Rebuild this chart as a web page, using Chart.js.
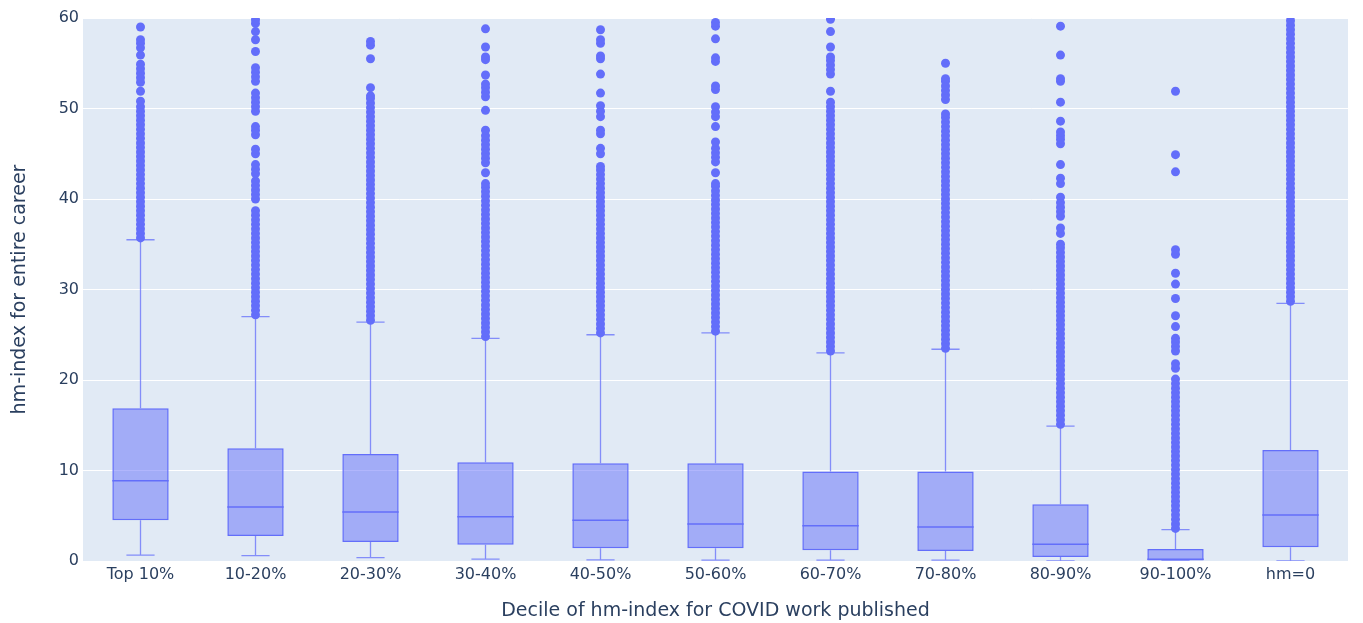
<!DOCTYPE html>
<html>
<head>
<meta charset="utf-8">
<script src="https://cdn.jsdelivr.net/npm/chart.js@4/dist/chart.umd.min.js"></script>
<style>
  html, body { margin: 0; padding: 0; background: #ffffff; }
  #wrap { width: 1363px; height: 623px; }
</style>
</head>
<body>
<div id="wrap"><canvas id="chart" width="1363" height="623"></canvas></div>
<script>
// Deciles of hm-index for COVID work, with box statistics of career hm-index
const categories = ['Top 10%', '10-20%', '20-30%', '30-40%', '40-50%', '50-60%', '60-70%', '70-80%', '80-90%', '90-100%', 'hm=0'];

const lowerFence = [0.66, 0.59, 0.37, 0.2, 0.12, 0.1, 0.1, 0.1, 0, 0, 0];
const q1         = [4.49, 2.76, 2.1, 1.8, 1.4, 1.4, 1.2, 1.1, 0.44, 0, 1.51];
const median     = [8.87, 5.97, 5.41, 4.9, 4.5, 4.1, 3.9, 3.75, 1.84, 0.19, 5.08];
const q3         = [16.87, 12.45, 11.82, 10.9, 10.8, 10.8, 9.9, 9.9, 6.26, 1.33, 12.27];
const upperFence = [35.5, 27.0, 26.4, 24.6, 25.0, 25.2, 23.0, 23.4, 14.9, 3.46, 28.47];

// Outlying researchers above the upper fence, per decile
const outTop10 = [35.7,36.2,36.7,37.2,37.7,38.2,38.7,39.2,39.7,40.2,40.7,41.2,41.7,42.2,42.7,43.2,43.7,44.2,44.7,45.2,45.7,46.2,46.7,47.2,47.7,48.2,48.7,49.2,49.7,50.2,50.8,51.9,52.9,53.4,53.9,54.4,54.9,55.9,56.7,57.2,57.6,59.0];
const out10_20 = [27.2,27.7,28.2,28.7,29.2,29.7,30.2,30.7,31.2,31.7,32.2,32.7,33.2,33.7,34.2,34.7,35.2,35.7,36.2,36.7,37.2,37.7,38.2,38.7,40.0,40.5,41.0,41.5,42.0,42.8,43.3,43.8,45.0,45.5,47.1,47.6,48.0,49.7,50.2,50.7,51.2,51.7,53.0,53.5,54.0,54.5,56.3,57.6,58.5,59.4,59.8,61.0];
const out20_30 = [26.6,27.1,27.6,28.1,28.6,29.1,29.6,30.1,30.6,31.1,31.6,32.1,32.6,33.1,33.6,34.1,34.6,35.1,35.6,36.1,36.6,37.1,37.6,38.1,38.6,39.1,39.6,40.1,40.6,41.1,41.6,42.1,42.6,43.1,43.6,44.1,44.6,45.1,45.6,46.1,46.6,47.1,47.6,48.1,48.6,49.1,49.6,50.1,50.6,51.1,51.4,52.3,55.5,57.0,57.4];
const out30_40 = [24.8,25.3,25.8,26.3,26.8,27.3,27.8,28.3,28.8,29.3,29.8,30.3,30.8,31.3,31.8,32.3,32.8,33.3,33.8,34.3,34.8,35.3,35.8,36.3,36.8,37.3,37.8,38.3,38.8,39.3,39.8,40.3,40.8,41.3,41.7,42.9,44.0,44.5,45.0,45.5,46.0,46.5,47.0,47.6,49.8,51.3,51.8,52.3,52.7,53.7,55.4,55.7,56.8,58.8];
const out40_50 = [25.2,25.7,26.2,26.7,27.2,27.7,28.2,28.7,29.2,29.7,30.2,30.7,31.2,31.7,32.2,32.7,33.2,33.7,34.2,34.7,35.2,35.7,36.2,36.7,37.2,37.7,38.2,38.7,39.2,39.7,40.2,40.7,41.2,41.7,42.2,42.7,43.2,43.6,45.0,45.6,47.2,47.6,49.1,49.7,50.3,51.7,53.8,55.5,55.8,57.2,57.6,58.7];
const out50_60 = [25.4,25.9,26.4,26.9,27.4,27.9,28.4,28.9,29.4,29.9,30.4,30.9,31.4,31.9,32.4,32.9,33.4,33.9,34.4,34.9,35.4,35.9,36.4,36.9,37.4,37.9,38.4,38.9,39.4,39.9,40.4,40.9,41.4,41.7,42.9,44.1,44.6,45.1,45.6,46.3,48.0,49.1,49.6,50.2,52.1,52.5,55.2,55.6,57.7,59.1,59.5,60.5];
const out60_70 = [23.2,23.7,24.2,24.7,25.2,25.7,26.2,26.7,27.2,27.7,28.2,28.7,29.2,29.7,30.2,30.7,31.2,31.7,32.2,32.7,33.2,33.7,34.2,34.7,35.2,35.7,36.2,36.7,37.2,37.7,38.2,38.7,39.2,39.7,40.2,40.7,41.2,41.7,42.2,42.7,43.2,43.7,44.2,44.7,45.2,45.7,46.2,46.7,47.2,47.7,48.2,48.7,49.2,49.7,50.2,50.7,51.9,53.8,54.3,54.8,55.3,55.7,56.8,58.5,59.85,61.0];
const out70_80 = [23.5,24.0,24.5,25.0,25.5,26.0,26.5,27.0,27.5,28.0,28.5,29.0,29.5,30.0,30.5,31.0,31.5,32.0,32.5,33.0,33.5,34.0,34.5,35.0,35.5,36.0,36.5,37.0,37.5,38.0,38.5,39.0,39.5,40.0,40.5,41.0,41.5,42.0,42.5,43.0,43.5,44.0,44.5,45.0,45.5,46.0,46.5,47.0,47.5,48.0,48.5,49.0,49.4,51.0,51.5,52.0,52.5,53.0,53.3,55.0];
const out80_90 = [15.1,15.6,16.1,16.6,17.1,17.6,18.1,18.6,19.1,19.6,20.1,20.6,21.1,21.6,22.1,22.6,23.1,23.6,24.1,24.6,25.1,25.6,26.1,26.6,27.1,27.6,28.1,28.6,29.1,29.6,30.1,30.6,31.1,31.6,32.1,32.6,33.1,33.6,34.1,34.6,35.0,36.2,36.8,38.1,38.6,39.1,39.6,40.2,41.7,42.3,43.8,46.1,46.6,47.0,47.4,48.6,50.7,53.0,53.3,55.9,59.1];
const out90_100 = [3.6,4.1,4.6,5.1,5.6,6.1,6.6,7.1,7.6,8.1,8.6,9.1,9.6,10.1,10.6,11.1,11.6,12.1,12.6,13.1,13.6,14.1,14.6,15.1,15.6,16.1,16.6,17.1,17.6,18.1,18.6,19.1,19.6,20.1,21.3,21.8,23.2,23.7,24.2,24.6,25.9,27.1,29.0,30.6,31.8,33.9,34.4,43.0,44.9,51.9];
const outHm0 = [28.7,29.2,29.7,30.2,30.7,31.2,31.7,32.2,32.7,33.2,33.7,34.2,34.7,35.2,35.7,36.2,36.7,37.2,37.7,38.2,38.7,39.2,39.7,40.2,40.7,41.2,41.7,42.2,42.7,43.2,43.7,44.2,44.7,45.2,45.7,46.2,46.7,47.2,47.7,48.2,48.7,49.2,49.7,50.2,50.7,51.2,51.7,52.2,52.7,53.2,53.7,54.2,54.7,55.2,55.7,56.2,56.7,57.2,57.7,58.2,58.7,59.2,59.7,60.2,61.0];

const outliers = [outTop10, out10_20, out20_30, out30_40, out40_50, out50_60, out60_70, out70_80, out80_90, out90_100, outHm0];

const yTicks = [0, 10, 20, 30, 40, 50, 60];

const BOX_LINE = '#636efa';
const BOX_FILL = 'rgba(99,110,250,0.5)';
const TEXT = '#2a3f5f';
const FONT = 'DejaVu Sans';

const outlierPoints = [];
outliers.forEach((list, i) => list.forEach(v => outlierPoints.push({ x: categories[i], y: v })));

// Plot background panel
const panelPlugin = {
  id: 'panel',
  beforeDraw(chart) {
    const { ctx, chartArea: a } = chart;
    ctx.save();
    ctx.fillStyle = '#e1eaf5';
    ctx.fillRect(a.left, a.top, a.right - a.left, a.bottom - a.top);
    ctx.restore();
  }
};

// Whiskers (under the boxes) and medians (over the boxes)
const boxPartsPlugin = {
  id: 'boxParts',
  beforeDatasetsDraw(chart) {
    const { ctx, chartArea: a, scales: { x, y } } = chart;
    const bars = chart.getDatasetMeta(0).data;
    ctx.save();
    ctx.beginPath();
    ctx.rect(a.left, a.top, a.right - a.left, a.bottom - a.top);
    ctx.clip();
    ctx.strokeStyle = BOX_LINE;
    ctx.globalAlpha = 0.75;
    ctx.lineWidth = 1.3;
    categories.forEach((c, i) => {
      const cx = x.getPixelForValue(i);
      const half = bars[i].width / 4;
      const yHi = y.getPixelForValue(upperFence[i]);
      const yLo = y.getPixelForValue(lowerFence[i]);
      ctx.beginPath();
      ctx.moveTo(cx, y.getPixelForValue(q3[i]));
      ctx.lineTo(cx, yHi);
      ctx.moveTo(cx - half, yHi);
      ctx.lineTo(cx + half, yHi);
      ctx.moveTo(cx, y.getPixelForValue(q1[i]));
      ctx.lineTo(cx, yLo);
      ctx.moveTo(cx - half, yLo);
      ctx.lineTo(cx + half, yLo);
      ctx.stroke();
    });
    ctx.restore();
  },
  afterDatasetDraw(chart, args) {
    if (args.index !== 0) return;
    const { ctx, scales: { y } } = chart;
    const bars = chart.getDatasetMeta(0).data;
    ctx.save();
    ctx.strokeStyle = BOX_LINE;
    ctx.lineWidth = 1.5;
    categories.forEach((c, i) => {
      const b = bars[i];
      const my = y.getPixelForValue(median[i]);
      ctx.beginPath();
      ctx.moveTo(b.x - b.width / 2, my);
      ctx.lineTo(b.x + b.width / 2, my);
      ctx.stroke();
    });
    ctx.restore();
  }
};

new Chart(document.getElementById('chart'), {
  type: 'bar',
  data: {
    labels: categories,
    datasets: [
      {
        type: 'bar',
        data: q1.map((v, i) => [v, q3[i]]),
        backgroundColor: BOX_FILL,
        borderColor: BOX_LINE,
        borderWidth: 1.5,
        borderSkipped: false,
        categoryPercentage: 1,
        barPercentage: 0.49,
        order: 2
      },
      {
        type: 'line',
        data: outlierPoints,
        showLine: false,
        pointRadius: 4.5,
        pointHoverRadius: 4.5,
        pointBackgroundColor: BOX_LINE,
        pointBorderWidth: 0,
        clip: 0,
        order: 1
      }
    ]
  },
  options: {
    responsive: false,
    animation: false,
    events: [],
    layout: { padding: { top: 18, right: 15, left: 0, bottom: 0 } },
    plugins: { legend: { display: false }, tooltip: { enabled: false } },
    scales: {
      x: {
        type: 'category',
        offset: true,
        grid: { display: false, drawTicks: false },
        border: { display: false },
        ticks: { color: TEXT, font: { family: FONT, size: 16 }, padding: 4, maxRotation: 0, autoSkip: false },
        title: {
          display: true,
          text: 'Decile of hm-index for COVID work published',
          color: TEXT,
          font: { family: FONT, size: 19 },
          padding: { top: 0, bottom: 1 }
        },
        afterFit(scale) { scale.height = 62; }
      },
      y: {
        min: 0,
        max: 60,
        afterBuildTicks(scale) { scale.ticks = yTicks.map(v => ({ value: v })); },
        grid: { color: '#ffffff', lineWidth: 1, drawTicks: false },
        border: { display: false },
        ticks: { color: TEXT, font: { family: FONT, size: 16 }, padding: 4 },
        title: {
          display: true,
          text: 'hm-index for entire career',
          color: TEXT,
          font: { family: FONT, size: 19 },
          padding: { top: 9, bottom: 0 }
        },
        afterFit(scale) { scale.width = 83; }
      }
    }
  },
  plugins: [panelPlugin, boxPartsPlugin]
});
</script>
</body>
</html>
